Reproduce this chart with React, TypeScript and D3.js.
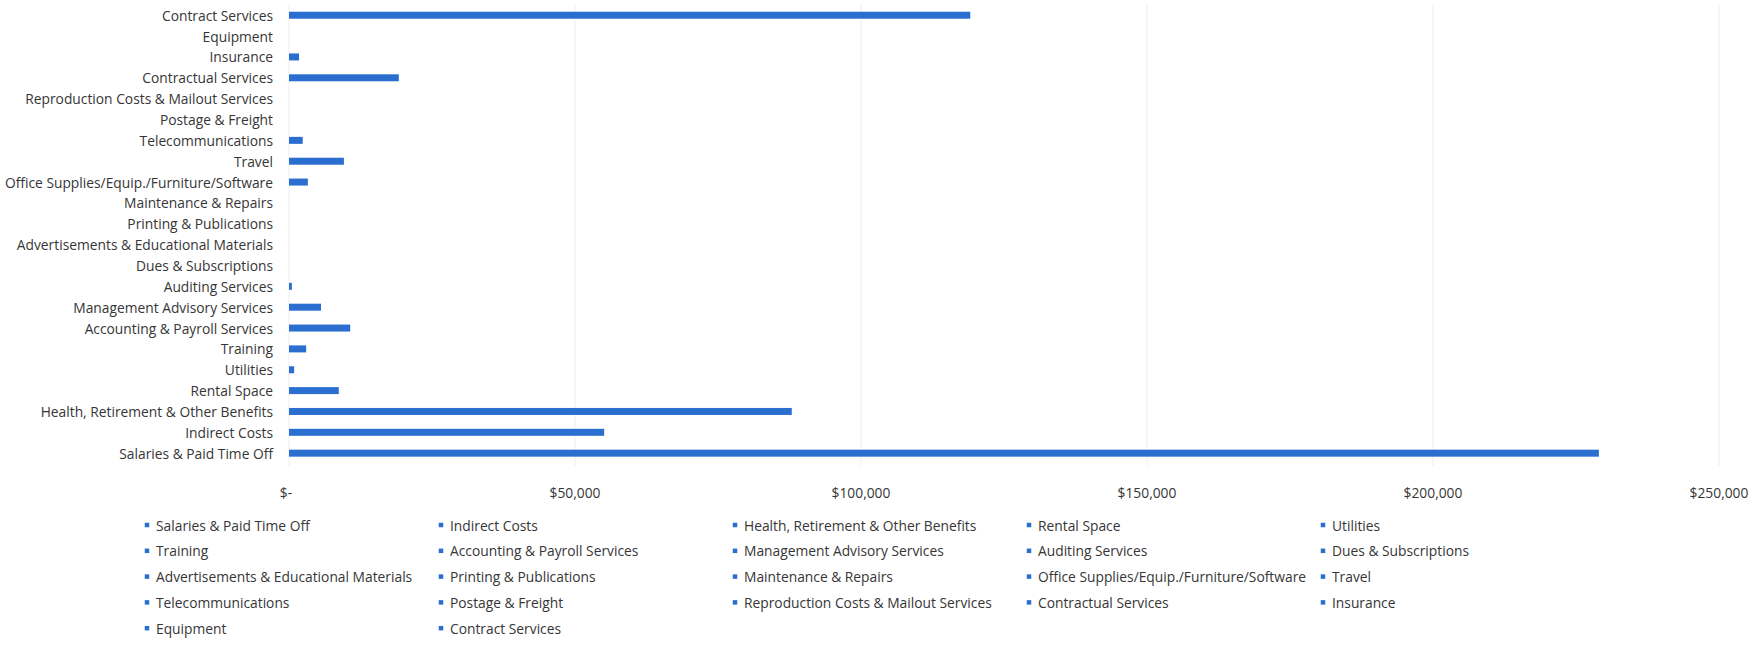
import React from "react";
import * as d3 from "d3";

const categories: string[] = [
  "Salaries & Paid Time Off",
  "Indirect Costs",
  "Health, Retirement & Other Benefits",
  "Rental Space",
  "Utilities",
  "Training",
  "Accounting & Payroll Services",
  "Management Advisory Services",
  "Auditing Services",
  "Dues & Subscriptions",
  "Advertisements & Educational Materials",
  "Printing & Publications",
  "Maintenance & Repairs",
  "Office Supplies/Equip./Furniture/Software",
  "Travel",
  "Telecommunications",
  "Postage & Freight",
  "Reproduction Costs & Mailout Services",
  "Contractual Services",
  "Insurance",
  "Equipment",
  "Contract Services",
];

const values: number[] = [
  229000, 55100, 87900, 8700, 900, 3000, 10700, 5600, 500, 0, 0, 0, 0, 3300,
  9600, 2400, 0, 0, 19200, 1750, 0, 119100,
];

const tickValues: number[] = [0, 50000, 100000, 150000, 200000, 250000];
const tickLabels: string[] = ["$-", "$50,000", "$100,000", "$150,000", "$200,000", "$250,000"];

const W = 1762;
const H = 645;
const BLUE = "#2a6fcf";
const TEXT = "#363636";
const FONT = "'Open Sans', 'Liberation Sans', Arial, sans-serif";
const FS = 13.8;

export default function App() {
  const x = d3.scaleLinear().domain([0, 250000]).range([289, 1719]);
  const y = d3
    .scaleBand<string>()
    .domain(categories.slice().reverse())
    .range([4.8, 463.6])
    .paddingInner(0.7)
    .paddingOuter(0.35);
  const bw = 7;
  const legendCols = 5;
  const legendX0 = 147;
  const legendDX = 294;
  const legendY0 = 525;
  const legendDY = 25.8;

  return (
    <svg
      width={W}
      height={H}
      style={{ position: "absolute", left: 0, top: 0, background: "#fff" }}
      fontFamily={FONT}
    >
      {tickValues.map((t) => (
        <line
          key={"g" + t}
          x1={x(t)}
          x2={x(t)}
          y1={4}
          y2={466}
          stroke="#ededed"
          strokeWidth={1}
        />
      ))}
      {categories.map((c, i) => {
        const cy = (y(c) as number) + y.bandwidth() / 2;
        return (
          <g key={c}>
            <text
              x={273}
              y={cy}
              textAnchor="end"
              dominantBaseline="central"
              fontSize={FS}
              fill={TEXT}
            >
              {c}
            </text>
            {values[i] > 0 && (
              <rect
                x={x(0)}
                y={cy - bw / 2}
                width={Math.max(1.5, x(values[i]) - x(0))}
                height={bw}
                fill={BLUE}
              />
            )}
          </g>
        );
      })}
      {tickValues.map((t, i) => (
        <text
          key={"t" + t}
          x={x(t) - (i === 0 ? 3 : 0)}
          y={492}
          textAnchor="middle"
          dominantBaseline="central"
          fontSize={FS}
          fill={TEXT}
        >
          {tickLabels[i]}
        </text>
      ))}
      {categories.map((c, i) => {
        const col = i % legendCols;
        const row = Math.floor(i / legendCols);
        const lx = legendX0 + col * legendDX;
        const ly = legendY0 + row * legendDY;
        return (
          <g key={"l" + c}>
            <rect x={lx - 2.25} y={ly - 2.25} width={4.5} height={4.5} fill={BLUE} />
            <text
              x={lx + 9}
              y={ly}
              dominantBaseline="central"
              fontSize={FS}
              fill={TEXT}
            >
              {c}
            </text>
          </g>
        );
      })}
    </svg>
  );
}
